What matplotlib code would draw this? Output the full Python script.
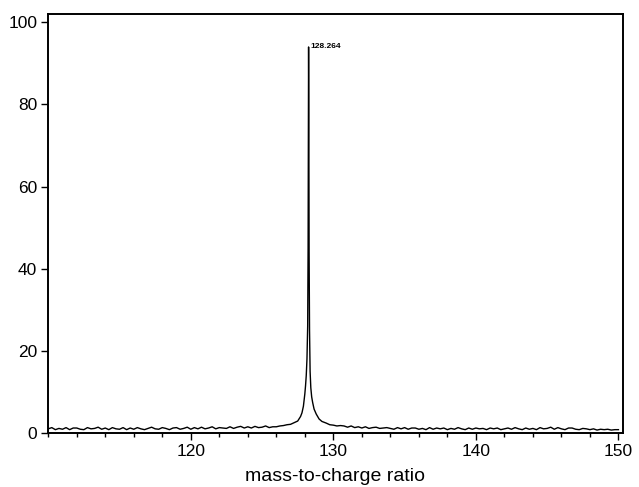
import numpy as np
import matplotlib
matplotlib.use('Agg')
import matplotlib.pyplot as plt
from matplotlib.ticker import MultipleLocator

plt.rcParams['font.family'] = ['Liberation Sans', 'DejaVu Sans']

# baseline scan grid (m/z) and intensities
left_mz = np.arange(110.0, 125.76, 0.25)
left_int = [1.0, 1.3, 0.8, 1.1, 0.9, 1.3, 0.8, 1.2, 1.2, 0.9,
            0.8, 1.3, 1.0, 1.1, 1.4, 0.9, 1.2, 0.8, 1.3, 1.0,
            0.9, 1.3, 0.8, 1.2, 0.9, 1.3, 1.0, 0.8, 1.1, 1.4,
            1.0, 0.9, 1.3, 1.1, 0.8, 1.2, 1.3, 0.9, 1.1, 1.4,
            0.9, 1.3, 1.0, 1.4, 1.0, 1.2, 1.5, 1.0, 1.3, 1.2,
            1.1, 1.5, 1.1, 1.4, 1.6, 1.2, 1.5, 1.2, 1.6, 1.3,
            1.4, 1.7, 1.3, 1.5]

peak_mz = [126.0, 126.25, 126.5, 126.75, 127.0, 127.25, 127.5, 127.7,
           127.8, 127.9, 128.0, 128.05, 128.1, 128.15, 128.2, 128.23,
           128.25, 128.264, 128.28, 128.3, 128.33, 128.37, 128.42, 128.48,
           128.55, 128.65, 128.8, 129.0, 129.2, 129.5, 129.75, 130.0,
           130.25, 130.5]
peak_int = [1.5, 1.7, 1.8, 2.0, 2.1, 2.5, 2.9, 4.0,
            4.9, 6.5, 9.5, 11.5, 14.0, 18.0, 26.0, 45.0,
            80.0, 94.0, 78.0, 44.0, 25.0, 15.0, 11.0, 8.8,
            7.4, 5.8, 4.6, 3.4, 2.8, 2.4, 2.0, 1.9,
            1.7, 1.8]

right_mz = np.arange(130.75, 150.01, 0.25)
right_int = [1.7, 1.4, 1.7, 1.3, 1.5, 1.2, 1.5, 1.1, 1.3, 1.4,
             1.1, 1.2, 1.3, 1.1, 0.9, 1.3, 1.0, 1.3, 0.9, 1.2,
             1.2, 0.9, 1.1, 0.8, 1.3, 0.9, 1.2, 1.0, 1.2, 0.8,
             1.1, 0.9, 1.3, 1.0, 0.8, 1.2, 0.9, 1.2, 1.0, 1.1,
             0.8, 1.2, 1.0, 1.2, 0.8, 1.0, 1.2, 0.9, 1.3, 1.0,
             0.8, 1.2, 0.9, 1.1, 0.8, 1.3, 1.0, 1.1, 1.4, 0.9,
             1.3, 1.0, 0.8, 1.2, 1.2, 0.9, 0.8, 1.1, 1.0, 0.8,
             1.0, 0.7, 0.9, 0.8, 0.9, 0.7, 0.8, 0.8]

peak_label = '128.264'

mz = np.concatenate([left_mz, peak_mz, right_mz])
intensity = np.concatenate([left_int, peak_int, right_int])

fig = plt.figure(figsize=(6.39, 4.87), dpi=100)
ax = fig.add_axes([0.0755, 0.111, 0.899, 0.86])

ax.plot(mz, intensity, color='black', lw=1.0)

top = int(np.argmax(intensity))
ax.annotate(peak_label, xy=(mz[top], intensity[top]), xytext=(1, -2),
            textcoords='offset points', fontsize=6, fontweight='bold',
            ha='left', va='bottom')

ax.set_xlim(110, 150.3)
ax.set_ylim(0, 102)
ax.set_xticks([120, 130, 140, 150])
ax.xaxis.set_minor_locator(MultipleLocator(2))
ax.set_yticks([0, 20, 40, 60, 80, 100])

ax.tick_params(axis='both', which='major', direction='out', length=5,
               width=1, labelsize=12.5, color='black', pad=3)
ax.tick_params(axis='x', which='minor', direction='out', length=3, width=1)

for s in ax.spines.values():
    s.set_linewidth(1.4)

ax.set_xlabel('mass-to-charge ratio', fontsize=14, labelpad=6.5)

fig.savefig('out.png', dpi=100)
